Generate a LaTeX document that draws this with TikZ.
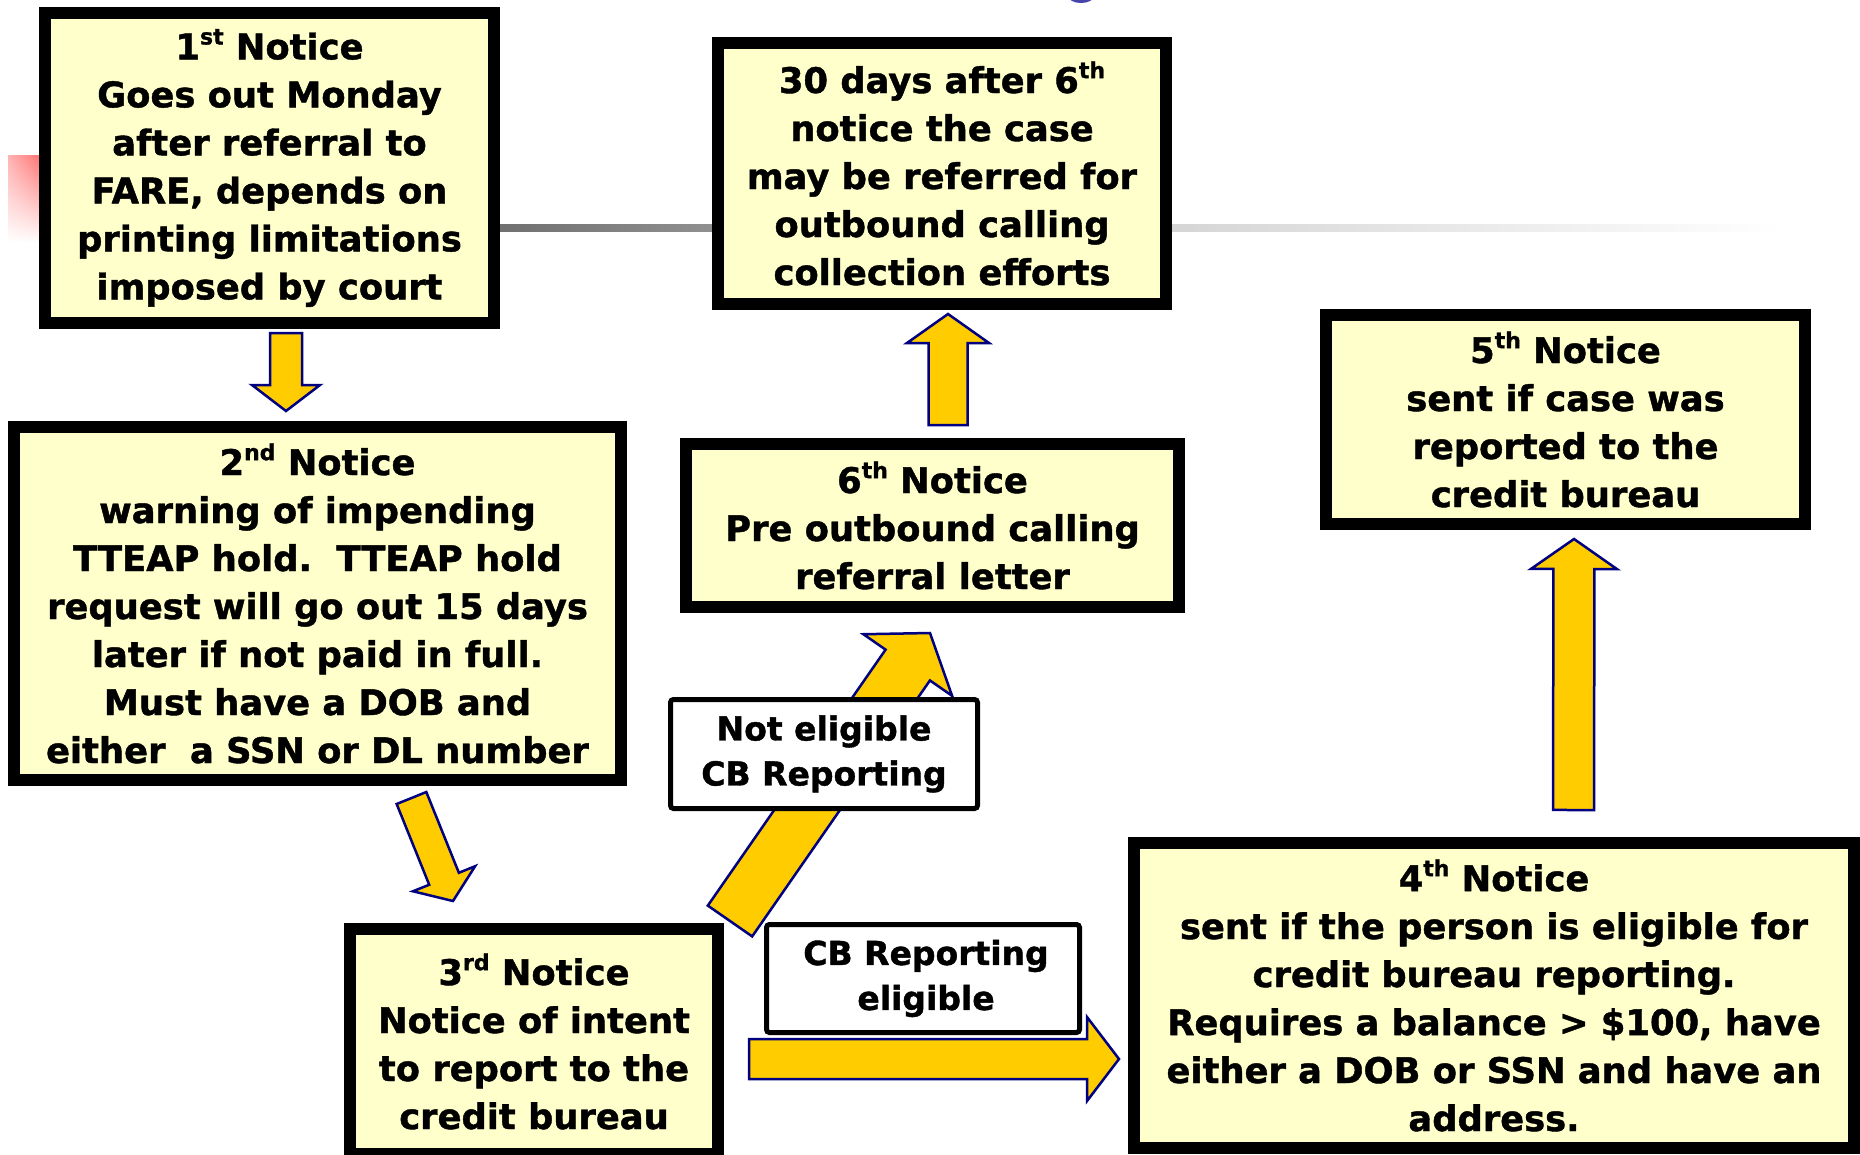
\documentclass[tikz,border=0pt]{standalone}
\usepackage{fontspec}
\setmainfont{DejaVu Sans}[BoldFeatures={FakeBold=1.2}]
\usetikzlibrary{calc,shadings}
\pgfdeclarelayer{bg}
\pgfsetlayers{bg,main}
\definecolor{notefill}{RGB}{255,255,204}
\definecolor{arrowfill}{RGB}{255,204,0}
\definecolor{arrowline}{RGB}{0,0,128}
\definecolor{dotblue}{RGB}{70,70,170}
\newcommand{\sups}[1]{\raisebox{0.42em}{\fontsize{22}{22}\selectfont #1}}
\newcommand{\blockarrow}[5]{%
	\coordinate (bt) at (#1);
	\coordinate (bp) at (#2);
	\coordinate (bh) at ($(bp)!#5!(bt)$);
	\draw[barrow] ($(bt)!#3!90:(bp)$) -- ($(bh)!#3!90:(bp)$) -- ($(bh)!#4!90:(bp)$) -- (bp)
	-- ($(bh)!#4!-90:(bp)$) -- ($(bh)!#3!-90:(bp)$) -- ($(bt)!#3!-90:(bp)$) -- cycle;
}
\begin{document}
\begin{tikzpicture}[x=1pt,y=-1pt,
	notice/.style={draw,line width=12pt,fill=notefill,align=center,inner sep=0pt,
		font=\fontsize{35.3}{48}\selectfont\bfseries},
	tag/.style={draw,line width=5pt,rounded corners=3pt,fill=white,align=center,inner sep=0pt,
		font=\fontsize{33}{45}\selectfont\bfseries},
	barrow/.style={fill=arrowfill,draw=arrowline,line width=2.5pt}]
	\useasboundingbox (0,0) rectangle (1860,1154);
	\path
	(269.5,168)  node[notice,minimum width=449pt,minimum height=310pt] (n1)
	{1\sups{st} Notice\\Goes out Monday\\after referral to\\FARE, depends on\\printing limitations\\imposed by court}
	(942,173.5)  node[notice,minimum width=448pt,minimum height=261pt] (n30)
	{30 days after 6\sups{th}\\notice the case\\may be referred for\\outbound calling\\collection efforts}
	(1565.5,419.5) node[notice,minimum width=479pt,minimum height=209pt] (n5)
	{5\sups{th} Notice\\sent if case was\\reported to the\\credit bureau}
	(932.5,525.5) node[notice,minimum width=493pt,minimum height=163pt] (n6)
	{6\sups{th} Notice\\Pre outbound calling\\referral letter}
	(317.5,603.5) node[notice,minimum width=607pt,minimum height=353pt] (n2)
	{2\sups{nd} Notice\\warning of impending\\TTEAP hold.\ \ TTEAP hold\\request will go out 15 days\\later if not paid in full.\\Must have a DOB and\\either\ \ a SSN or DL number}
	(534,1041.5) node[notice,minimum width=368pt,minimum height=225pt] (n3)
	{3\sups{rd} Notice\\Notice of intent\\to report to the\\credit bureau}
	(1494,995.5) node[notice,minimum width=720pt,minimum height=305pt] (n4)
	{4\sups{th} Notice\\sent if the person is eligible for\\credit bureau reporting.\\Requires a balance > \$100, have\\either a DOB or SSN and have an\\address.}
	(824,754)    node[tag,minimum width=307pt,minimum height=109pt] (no) {Not eligible\\CB Reporting}
	(923,978.5)  node[tag,minimum width=313pt,minimum height=108pt] (yes) {\hspace*{6pt}CB Reporting\\\hspace*{6pt}eligible};
	\begin{pgfonlayer}{bg}
	\shade[upper left=red!30,upper right=red!55,lower left=white,lower right=white] (8,155) rectangle (40,243);
	\shade[left color={rgb,255:red,100;green,100;blue,100},right color={rgb,255:red,213;green,213;blue,213}] (420,224.5) rectangle (1172,231.5);
	\shade[left color={rgb,255:red,213;green,213;blue,213},right color=white] (1172,224.5) rectangle (1782,231.5);
	\fill[dotblue] (1081,-4) ellipse [x radius=13pt,y radius=7pt];
	\blockarrow{$(n1.south)+(16.5,4)$}{$(n2.north)+(-31.5,-10)$}{16pt}{34pt}{26pt}
	\blockarrow{$(n2.south)+(94,12)$}{$(n3.north)+(-81,-22)$}{16pt}{33.5pt}{24pt}
	\blockarrow{$(n3.north)+(196,-2)$}{$(n6.south)+(-2.5,20)$}{27pt}{54pt}{39pt}
	\blockarrow{$(n6.north)+(15.5,-13)$}{$(n30.south)+(6,4)$}{19.5pt}{41pt}{29pt}
	\blockarrow{$(n3.east)+(25,17.5)$}{$(n4.west)+(-9,63.5)$}{20pt}{42pt}{32pt}
	\blockarrow{$(n4.north)+(79.5,-27)$}{$(n5.south)+(8.5,9)$}{20.5pt}{43pt}{30pt}
	\end{pgfonlayer}
\end{tikzpicture}
\end{document}
